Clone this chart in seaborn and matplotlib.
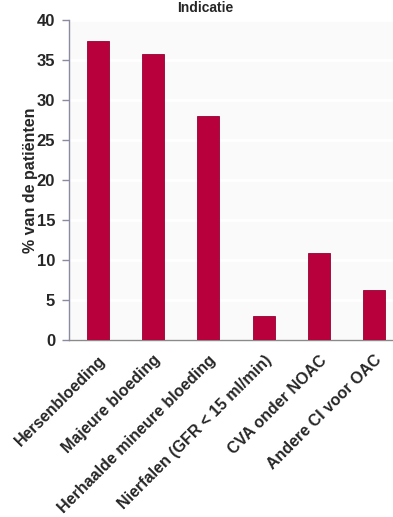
import matplotlib
matplotlib.use("Agg")
import matplotlib.pyplot as plt
import seaborn as sns
import pandas as pd

categories = [
    "Hersenbloeding",
    "Majeure bloeding",
    "Herhaalde mineure bloeding",
    "Nierfalen (GFR < 15 ml/min)",
    "CVA onder NOAC",
    "Andere CI voor OAC",
]
percentages = [37.4, 35.8, 28.0, 3.0, 10.9, 6.2]
y_ticks = [0, 5, 10, 15, 20, 25, 30, 35, 40]

sns.set_theme(style="white")
plt.rcParams["font.family"] = ["Liberation Sans", "DejaVu Sans"]

df = pd.DataFrame({"cat": categories, "pct": percentages})

W, H = 393, 517
fig = plt.figure(figsize=(W / 100, H / 100), dpi=100)
fig.patch.set_facecolor("white")
left, right, bottom, top = 69, 402, 340, 20
ax = fig.add_axes([left / W, 1 - bottom / H, (right - left) / W, (bottom - top) / H])
ax.set_facecolor("#fafafa")

sns.barplot(data=df, x="cat", y="pct", color="#b8003c", width=0.4,
            saturation=1, edgecolor="#960032", linewidth=0.6, ax=ax, zorder=3)

ax.set_ylim(0, 40)
ax.set_xlim(-0.52, 5.5)
ax.set_yticks(y_ticks)
ax.set_yticklabels([str(t) for t in y_ticks], fontsize=12, fontweight="bold")
ax.yaxis.grid(True, color="white", linewidth=2.0, zorder=0)
ax.set_axisbelow(True)

for s in ["top", "right"]:
    ax.spines[s].set_visible(False)
ax.spines["left"].set_color("#8a8aa0")
ax.spines["bottom"].set_color("#8a8a8a")
ax.spines["left"].set_linewidth(1.0)
ax.spines["bottom"].set_linewidth(1.0)
ax.tick_params(axis="y", which="both", left=True, length=5, width=1,
               color="#8a8aa0", pad=5)
ax.tick_params(axis="x", bottom=False, pad=3)

ax.set_xticks(range(len(categories)))
ax.set_xticklabels(categories, rotation=45, ha="right", rotation_mode="anchor",
                   fontsize=11.5, fontweight="bold")
ax.set_xlabel("")
ax.set_ylabel("% van de patiënten", fontsize=11.5, fontweight="bold", labelpad=-1)

fig.text(205 / W, 1 - 1 / H, "Indicatie", ha="center", va="top",
         fontsize=10, fontweight="bold")

fig.savefig("out.png", dpi=100, facecolor="white")
